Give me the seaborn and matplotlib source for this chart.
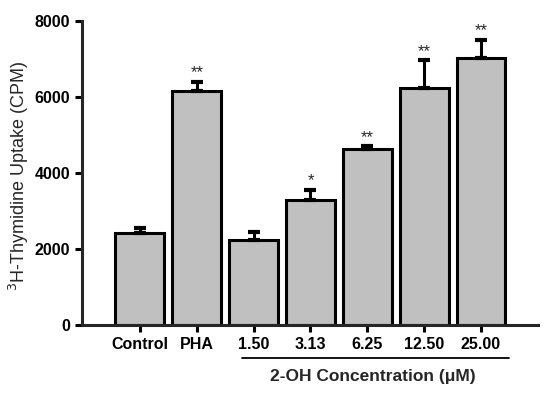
import numpy as np
import matplotlib
matplotlib.use("Agg")
import matplotlib.pyplot as plt
import seaborn as sns

# Datos
groups = ["Control", "PHA", "1.50", "3.13", "6.25", "12.50", "25.00"]
means = [2430, 6150, 2230, 3300, 4640, 6230, 7020]
sem = [110, 240, 210, 250, 60, 730, 480]
stars = ["", "**", "", "*", "**", "**", "**"]

sns.set_theme(style="ticks")
plt.rcParams["font.family"] = ["Liberation Sans", "DejaVu Sans"]

fig = plt.figure(figsize=(5.5, 3.93), dpi=100)
ax = fig.add_axes([0.149, 0.173, 0.829, 0.774])

sns.barplot(x=groups, y=means, color="#c0c0c0", edgecolor="black",
            linewidth=2.2, width=0.86, saturation=1, ax=ax, errorbar=None)

pos = np.arange(len(groups))
ax.errorbar(pos, means, yerr=[np.zeros(len(sem)), sem], fmt="none",
            ecolor="black", elinewidth=2.2, capsize=4.5, capthick=3, zorder=1)

for x, m, e, s in zip(pos, means, sem, stars):
    if s:
        ax.text(x, m + e + 40, s, ha="center", va="bottom", fontsize=12)

ax.set_xlim(-1.02, 7.0)
ax.set_ylim(0, 8000)
ax.set_yticks([0, 2000, 4000, 6000, 8000])
for sp in ["top", "right"]:
    ax.spines[sp].set_visible(False)
for sp in ["left", "bottom"]:
    ax.spines[sp].set_linewidth(2.2)
ax.tick_params(width=2.2, length=5, direction="out", labelsize=11.5, colors="black")
for lab in ax.get_xticklabels() + ax.get_yticklabels():
    lab.set_fontweight("bold")

ax.set_ylabel("$^{3}$H-Thymidine Uptake (CPM)", fontsize=13)
ax.yaxis.set_label_coords(-0.112, 0.49)
ax.set_xlabel("")

# linea de grupo para las concentraciones
ax.plot([1.79, 6.49], [-0.108, -0.108], color="black", lw=1.3,
        transform=ax.get_xaxis_transform(), clip_on=False)
ax.text(4.1, -0.145, "2-OH Concentration (\u03bcM)", ha="center", va="top",
        fontsize=12.5, fontweight="bold", transform=ax.get_xaxis_transform())

fig.savefig("out.png", dpi=100)
